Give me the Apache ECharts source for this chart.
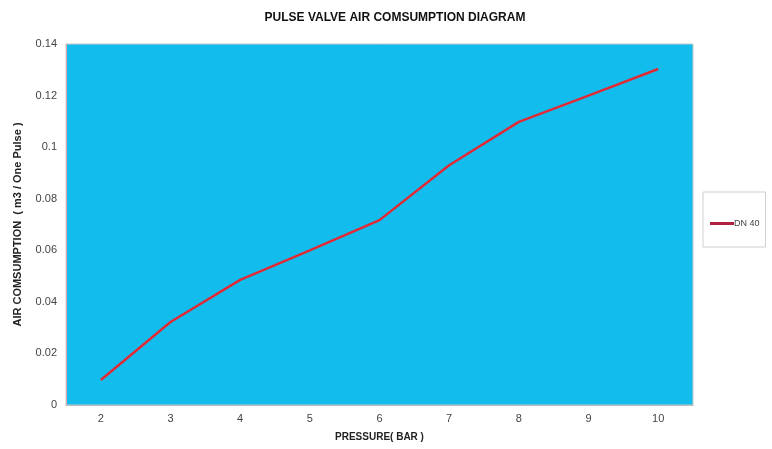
<!DOCTYPE html>
<html><head><meta charset="utf-8">
<script src="https://cdn.jsdelivr.net/npm/echarts@6/dist/echarts.min.js"></script>
<style>html,body{margin:0;padding:0;background:#fff}#c{width:772px;height:449px}</style>
</head><body><div id="c"></div>
<script>
const pressure = ['2','3','4','5','6','7','8','9','10'];
const dn40 = [0.0097, 0.0322, 0.0485, 0.060, 0.0717, 0.093, 0.1098, 0.120, 0.1303];
const yTicks = [0, 0.02, 0.04, 0.06, 0.08, 0.1, 0.12, 0.14];
const fontFam = '"Liberation Sans Narrow", "Liberation Sans", Arial, sans-serif';
const chart = echarts.init(document.getElementById('c'));
chart.setOption({
  animation: false,
  title: {
    text: 'PULSE VALVE AIR COMSUMPTION DIAGRAM', left: 390, top: 7, textAlign: 'center',
    textStyle: {fontSize: 12, fontWeight: 'bold', color: '#111', fontFamily: fontFam}
  },
  grid: {left: 66, right: 79, top: 44, bottom: 44, show: true, backgroundColor: '#12BDEE', borderColor: '#c8c8c8', borderWidth: 1},
  legend: {
    orient: 'vertical', left: 703, top: 192,
    padding: [27, 6, 19, 7], borderColor: '#cfcfcf', borderWidth: 1,
    itemWidth: 24, itemHeight: 10, icon: 'path://M0,0 L24,0 L24,3 L0,3 Z', itemGap: 0,
    textStyle: {fontSize: 9, color: '#444', fontFamily: fontFam, padding: [0,0,0,-5]},
    data: [{name: 'DN 40', itemStyle: {color: '#B02040'}}]
  },
  xAxis: {
    type: 'category', data: pressure, boundaryGap: true,
    name: 'PRESSURE( BAR )', nameLocation: 'middle', nameGap: 27,
    nameTextStyle: {fontSize: 10, fontWeight: 'bold', color: '#222', fontFamily: fontFam},
    axisLine: {lineStyle: {color: '#bbbbbb'}}, axisTick: {show: false},
    axisLabel: {fontSize: 11, color: '#444', margin: 8, fontFamily: fontFam}
  },
  yAxis: {
    type: 'value', min: 0, max: 0.14, interval: 0.02,
    name: 'AIR COMSUMPTION  ( m3 / One Pulse )', nameLocation: 'middle', nameGap: 43, nameRotate: 90,
    nameTextStyle: {fontSize: 11, fontWeight: 'bold', color: '#222', fontFamily: fontFam},
    axisLine: {show: true, lineStyle: {color: '#d9aab0'}}, axisTick: {show: false},
    splitLine: {show: false},
    axisLabel: {fontSize: 11, color: '#444', margin: 9, fontFamily: fontFam,
      formatter: v => { const t = yTicks.find(x => Math.abs(x - v) < 1e-9); return t === undefined ? '' : String(t); }}
  },
  series: [{
    name: 'DN 40', type: 'line', data: dn40, symbol: 'none',
    lineStyle: {color: '#E02A35', width: 2.5}, itemStyle: {color: '#B02040'}
  }]
});
</script></body></html>
